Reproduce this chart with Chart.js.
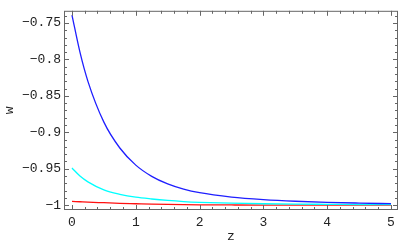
<!DOCTYPE html>
<html>
<head>
<meta charset="utf-8">
<script src="https://cdn.jsdelivr.net/npm/chart.js@4/dist/chart.umd.min.js"></script>
<style>
  html, body { margin: 0; padding: 0; background: #fff; }
  #wrap { width: 400px; height: 247px; position: relative; }
</style>
</head>
<body>
<div id="wrap"><canvas id="wPlot"></canvas></div>
<script>
// w(z) curves, values
const zValues = [0, 0.125, 0.25, 0.5, 0.75, 1, 1.25, 1.5, 1.75, 2, 2.5, 3, 3.5, 4, 4.5, 5];

const blueW = [-0.739, -0.790, -0.830, -0.886, -0.9215, -0.945, -0.9604, -0.9708, -0.978,
               -0.9829, -0.9888, -0.9923, -0.9946, -0.9961, -0.9971, -0.9979];
const cyanW = [-0.949, -0.960, -0.968, -0.979, -0.985, -0.989, -0.9915, -0.9935, -0.995,
               -0.996, -0.9972, -0.998, -0.9985, -0.9988, -0.9991, -0.9993];
const redW  = [-0.9948, -0.9953, -0.9958, -0.9966, -0.9974, -0.998, -0.9986, -0.999, -0.9993,
               -0.9995, -0.9997, -0.9998, -0.9998, -0.9999, -0.9999, -0.9999];

const xTicks = [0, 1, 2, 3, 4, 5];
const xTickLabels = ['0', '1', '2', '3', '4', '5'];
const yTicks = [-1, -0.95, -0.9, -0.85, -0.8, -0.75];
const yTickLabels = ['\u22121', '\u22120.95', '\u22120.9', '\u22120.85', '\u22120.8', '\u22120.75'];

const FONT = { family: "'Liberation Mono', 'DejaVu Sans Mono', monospace", size: 13 };
const FRAME = '#666';

function toPoints(ys) {
    return zValues.map((z, i) => ({ x: z, y: ys[i] }));
}

// Mathematica-style frame with inward major/minor ticks on all four sides
const framePlugin = {
    id: 'frame',
    afterDatasetsDraw(chart) {
        const { ctx, chartArea: a, scales: { x, y } } = chart;
        ctx.save();
        ctx.strokeStyle = FRAME;
        ctx.lineWidth = 1;
        ctx.strokeRect(a.left + 0.5, a.top + 0.5, a.right - a.left - 1, a.bottom - a.top - 1);
        ctx.beginPath();
        for (let i = 0; i <= 25; i++) {
            const px = Math.round(x.getPixelForValue(i * 0.2)) + 0.5;
            const len = i % 5 === 0 ? 5 : 3;
            ctx.moveTo(px, a.bottom);
            ctx.lineTo(px, a.bottom - len);
            ctx.moveTo(px, a.top);
            ctx.lineTo(px, a.top + len);
        }
        for (let i = 0; i <= 26; i++) {
            const v = -1 + i * 0.01;
            const py = Math.round(y.getPixelForValue(v)) + 0.5;
            if (py < a.top || py > a.bottom) continue;
            const len = i % 5 === 0 ? 5 : 3;
            ctx.moveTo(a.left, py);
            ctx.lineTo(a.left + len, py);
            ctx.moveTo(a.right, py);
            ctx.lineTo(a.right - len, py);
        }
        ctx.stroke();
        ctx.restore();
    }
};

new Chart(document.getElementById('wPlot'), {
    type: 'line',
    data: {
        datasets: [
            { data: toPoints(blueW), borderColor: '#1f1fff' },
            { data: toPoints(cyanW), borderColor: '#00ffff' },
            { data: toPoints(redW),  borderColor: '#ff1010' }
        ].map(d => Object.assign(d, {
            borderWidth: 1.3,
            pointRadius: 0,
            fill: false,
            cubicInterpolationMode: 'monotone'
        }))
    },
    options: {
        responsive: true,
        maintainAspectRatio: false,
        animation: false,
        events: [],
        layout: { padding: { top: 3, right: 2, left: 0, bottom: 0 } },
        plugins: { legend: { display: false }, tooltip: { enabled: false } },
        scales: {
            x: {
                type: 'linear',
                min: -0.125,
                max: 5.11,
                afterBuildTicks: s => { s.ticks = xTicks.map(v => ({ value: v })); },
                afterFit: s => { s.height = 37; },
                grid: { display: false, drawTicks: false },
                border: { display: false },
                ticks: {
                    padding: 5,
                    color: '#222',
                    font: FONT,
                    maxRotation: 0,
                    callback: (v, i) => xTickLabels[i]
                },
                title: { display: true, text: 'z', color: '#222', font: FONT, padding: { top: 0, bottom: 3 } }
            },
            y: {
                type: 'linear',
                min: -1.0066,
                max: -0.7332,
                afterBuildTicks: s => { s.ticks = yTicks.map(v => ({ value: v })); },
                afterFit: s => { s.width = 64; },
                grid: { display: false, drawTicks: false },
                border: { display: false },
                ticks: {
                    padding: 3,
                    color: '#222',
                    font: FONT,
                    callback: (v, i) => yTickLabels[i]
                },
                title: { display: true, text: 'w', color: '#222', font: FONT, padding: { top: 2, bottom: 0 } }
            }
        }
    },
    plugins: [framePlugin]
});
</script>
</body>
</html>
